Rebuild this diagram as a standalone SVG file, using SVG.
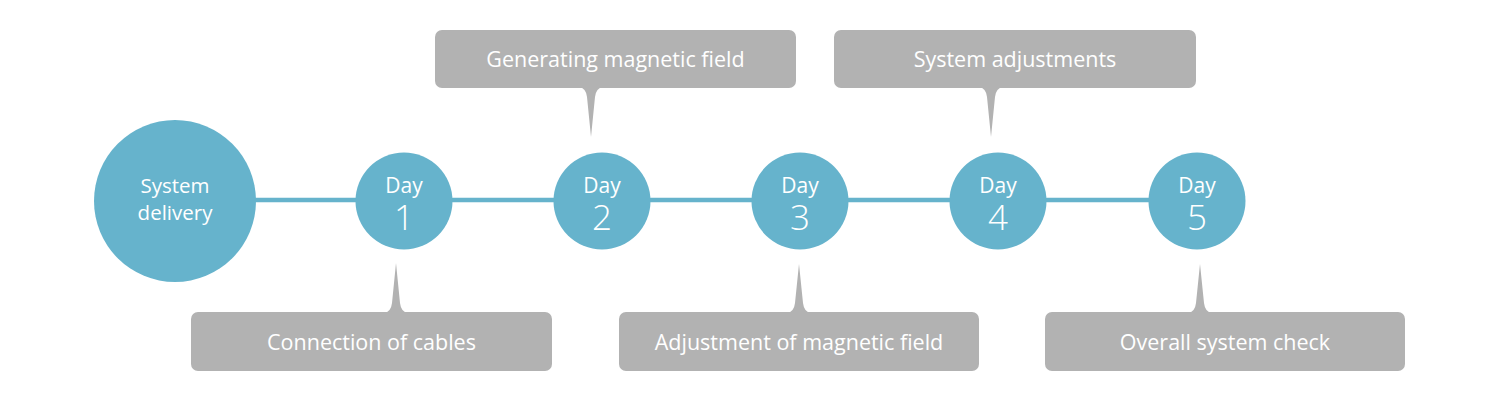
<svg xmlns="http://www.w3.org/2000/svg" width="1500" height="400" viewBox="0 0 1500 400">
<style>
.node{fill:#66b3cc}
.box{fill:#b2b2b2}
.lbl{font-family:"Open Sans","Noto Sans","Liberation Sans",sans-serif;font-size:21.5px;fill:#ffffff;text-anchor:middle}
.sd{font-family:"Open Sans","Noto Sans","Liberation Sans",sans-serif;font-size:20.5px;fill:#ffffff;text-anchor:middle}
.day{font-family:"Open Sans","Noto Sans","Liberation Sans",sans-serif;font-size:21px;fill:#ffffff;text-anchor:middle}
.num{font-family:"Open Sans","Noto Sans","Liberation Sans",sans-serif;font-size:35px;font-weight:300;fill:#ffffff;text-anchor:middle}
.conn{stroke:#66b3cc;stroke-width:4.5;fill:none}
</style>
<rect width="1500" height="400" fill="#ffffff"/>
<g id="connectors">
<line class="conn" x1="250" y1="200" x2="1160" y2="200"/>
</g>
<g id="delivery">
<circle class="node" cx="175" cy="201" r="81"/>
<text class="sd" x="175" y="193">System</text>
<text class="sd" x="175" y="220">delivery</text>
</g>
<g id="day1">
<circle class="node" cx="404" cy="201" r="48.5"/>
<text class="day" x="404" y="193">Day</text>
<text class="num" x="404" y="230">1</text>
</g>
<g id="day2">
<circle class="node" cx="602" cy="201" r="48.5"/>
<text class="day" x="602" y="193">Day</text>
<text class="num" x="602" y="230">2</text>
</g>
<g id="day3">
<circle class="node" cx="800" cy="201" r="48.5"/>
<text class="day" x="800" y="193">Day</text>
<text class="num" x="800" y="230">3</text>
</g>
<g id="day4">
<circle class="node" cx="998" cy="201" r="48.5"/>
<text class="day" x="998" y="193">Day</text>
<text class="num" x="998" y="230">4</text>
</g>
<g id="day5">
<circle class="node" cx="1197" cy="201" r="48.5"/>
<text class="day" x="1197" y="193">Day</text>
<text class="num" x="1197" y="230">5</text>
</g>
<g id="callout-generating">
<rect class="box" x="435" y="30" width="361" height="58" rx="7"/>
<path class="box" d="M579,87 Q586,88 587,97 L591,137 L595,97 Q596,88 603,87 Z"/>
<text class="lbl" x="615.5" y="67">Generating magnetic field</text>
</g>
<g id="callout-sysadj">
<rect class="box" x="834" y="30" width="362" height="58" rx="7"/>
<path class="box" d="M979,87 Q986,88 987,97 L991,137 L995,97 Q996,88 1003,87 Z"/>
<text class="lbl" x="1015" y="67">System adjustments</text>
</g>
<g id="callout-cables">
<rect class="box" x="191" y="312" width="361" height="59" rx="7"/>
<path class="box" d="M384,313 Q391,312 392,303 L396,263 L400,303 Q401,312 408,313 Z"/>
<text class="lbl" x="371.5" y="350">Connection of cables</text>
</g>
<g id="callout-adjmag">
<rect class="box" x="619" y="312" width="360" height="59" rx="7"/>
<path class="box" d="M787,313 Q794,312 795,303 L799,264 L803,303 Q804,312 811,313 Z"/>
<text class="lbl" x="799" y="350">Adjustment of magnetic field</text>
</g>
<g id="callout-overall">
<rect class="box" x="1045" y="312" width="360" height="59" rx="7"/>
<path class="box" d="M1188,313 Q1195,312 1196,303 L1200,264 L1204,303 Q1205,312 1212,313 Z"/>
<text class="lbl" x="1225" y="350">Overall system check</text>
</g>
</svg>
